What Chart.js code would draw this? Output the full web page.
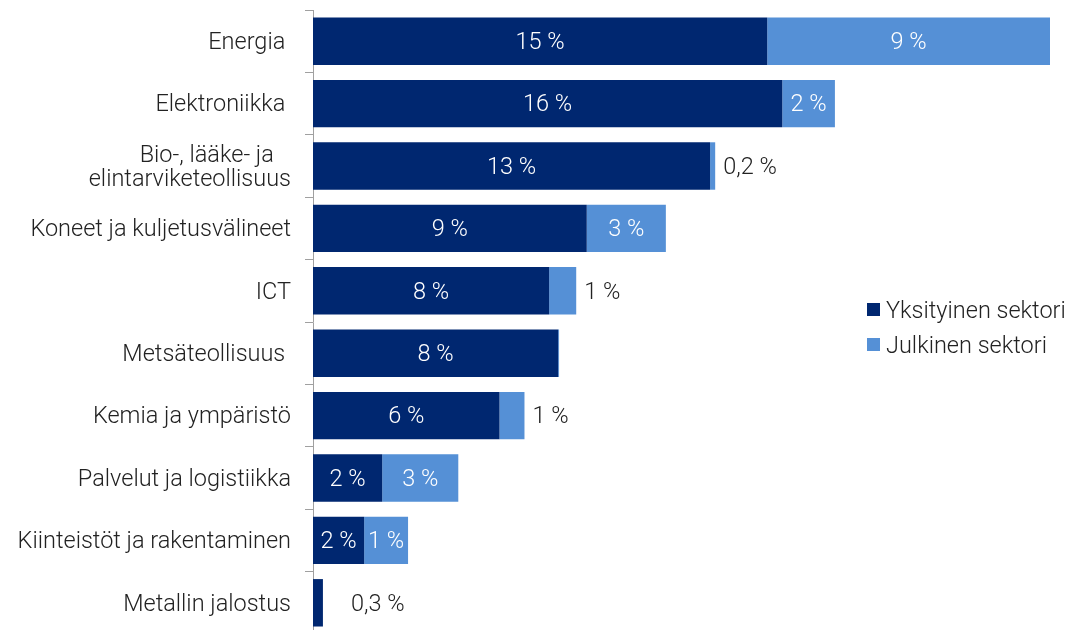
<!DOCTYPE html>
<html lang="fi">
<head>
<meta charset="utf-8">
<script src="https://cdn.jsdelivr.net/npm/chart.js@4.4.1/dist/chart.umd.min.js"></script>
<style>
  html, body { margin: 0; padding: 0; background: #fff; overflow: hidden; }
  #kehys { position: relative; width: 1072px; height: 634px; }
  #selite { position: absolute; left: 867px; top: 292px; font-family: Roboto, "Liberation Sans", sans-serif; font-weight: 300; font-size: 23.5px; color: #222; }
  #selite div { display: flex; align-items: center; height: 35px; white-space: nowrap; }
  #selite span.ruutu { display: inline-block; width: 13px; height: 13px; margin-right: 6px; }
</style>
</head>
<body>
<div id="kehys">
  <canvas id="kaavio"></canvas>
  <div id="selite"></div>
</div>
<script>
'use strict'
//Toimialat (ylhäältä alas)
const toimialat = ['Energia ', 'Elektroniikka ', ['Bio-, lääke- ja   ', 'elintarviketeollisuus'], 'Koneet ja kuljetusvälineet', 'ICT', 'Metsäteollisuus ', 'Kemia ja ympäristö', 'Palvelut ja logistiikka', 'Kiinteistöt ja rakentaminen', 'Metallin jalostus'];
//Osuudet prosentteina
const yksityinen = [15.1, 15.6, 13.2, 9.1, 7.85, 8.15, 6.2, 2.3, 1.7, 0.33];
const julkinen = [9.4, 1.75, 0.17, 2.63, 0.9, 0.03, 0.83, 2.53, 1.46, 0];
const sarjat = ['Yksityinen sektori', 'Julkinen sektori'];
const varit = ['#002770', '#5590d6'];

const fontti = 'Roboto, "Liberation Sans", sans-serif';
const koko = 23.5;

function muotoile(v) {
    if (v >= 0.5) return Math.round(v) + ' %';
    return v.toFixed(1).replace('.', ',') + ' %';
}

//Arvot palkkien sisään tai viereen
const arvoLaput = {
    id: 'arvoLaput',
    afterDatasetsDraw(chart) {
        const ctx = chart.ctx;
        ctx.save();
        ctx.font = '300 ' + koko + 'px ' + fontti;
        ctx.textBaseline = 'middle';
        chart.data.datasets.forEach((ds, d) => {
            const meta = chart.getDatasetMeta(d);
            meta.data.forEach((bar, i) => {
                const v = ds.data[i];
                if (v < 0.1) return;
                const teksti = muotoile(v);
                const leveys = ctx.measureText(teksti).width;
                const alku = bar.base;
                const loppu = bar.x;
                if (loppu - alku >= leveys + 2) {
                    ctx.fillStyle = '#ffffff';
                    ctx.textAlign = 'center';
                    ctx.fillText(teksti, (alku + loppu) / 2, bar.y + 2);
                } else {
                    ctx.fillStyle = '#222222';
                    ctx.textAlign = 'left';
                    const rako = d === 0 ? 28 : 8;
                    ctx.fillText(teksti, loppu + rako, bar.y + 2);
                }
            });
        });
        ctx.restore();
    }
};

const kaavio = new Chart(document.getElementById('kaavio').getContext('2d'), {
    type: 'bar',
    data: {
        labels: toimialat,
        datasets: [
            { label: sarjat[0], data: yksityinen, backgroundColor: varit[0], barPercentage: 0.76, categoryPercentage: 1 },
            { label: sarjat[1], data: julkinen, backgroundColor: varit[1], barPercentage: 0.76, categoryPercentage: 1 }
        ]
    },
    options: {
        indexAxis: 'y',
        animation: false,
        responsive: true,
        maintainAspectRatio: false,
        layout: { padding: { top: 10, right: 22, bottom: 0, left: 0 } },
        scales: {
            x: {
                stacked: true,
                display: false,
                min: 0,
                max: 24.5
            },
            y: {
                stacked: true,
                afterFit: function(scale) {
                    scale.width = 313;
                    scale.paddingTop = 0;
                    scale.paddingBottom = 0;
                },
                grid: {
                    offset: true,
                    drawOnChartArea: false,
                    drawTicks: true,
                    tickLength: 8,
                    color: '#a0a0a0'
                },
                border: { display: true, color: '#a0a0a0', width: 1 },
                ticks: {
                    color: '#222222',
                    padding: 14,
                    labelOffset: 2,
                    font: { family: fontti, size: koko, weight: 300, lineHeight: 1.0 }
                }
            }
        },
        plugins: {
            legend: { display: false },
            tooltip: { enabled: false },
            title: { display: false }
        }
    },
    plugins: [arvoLaput]
});

//Selite HTML:nä
const selite = document.getElementById('selite');
sarjat.forEach((nimi, i) => {
    const rivi = document.createElement('div');
    const ruutu = document.createElement('span');
    ruutu.className = 'ruutu';
    ruutu.style.background = varit[i];
    rivi.appendChild(ruutu);
    rivi.appendChild(document.createTextNode(nimi));
    selite.appendChild(rivi);
});
</script>
</body>
</html>
